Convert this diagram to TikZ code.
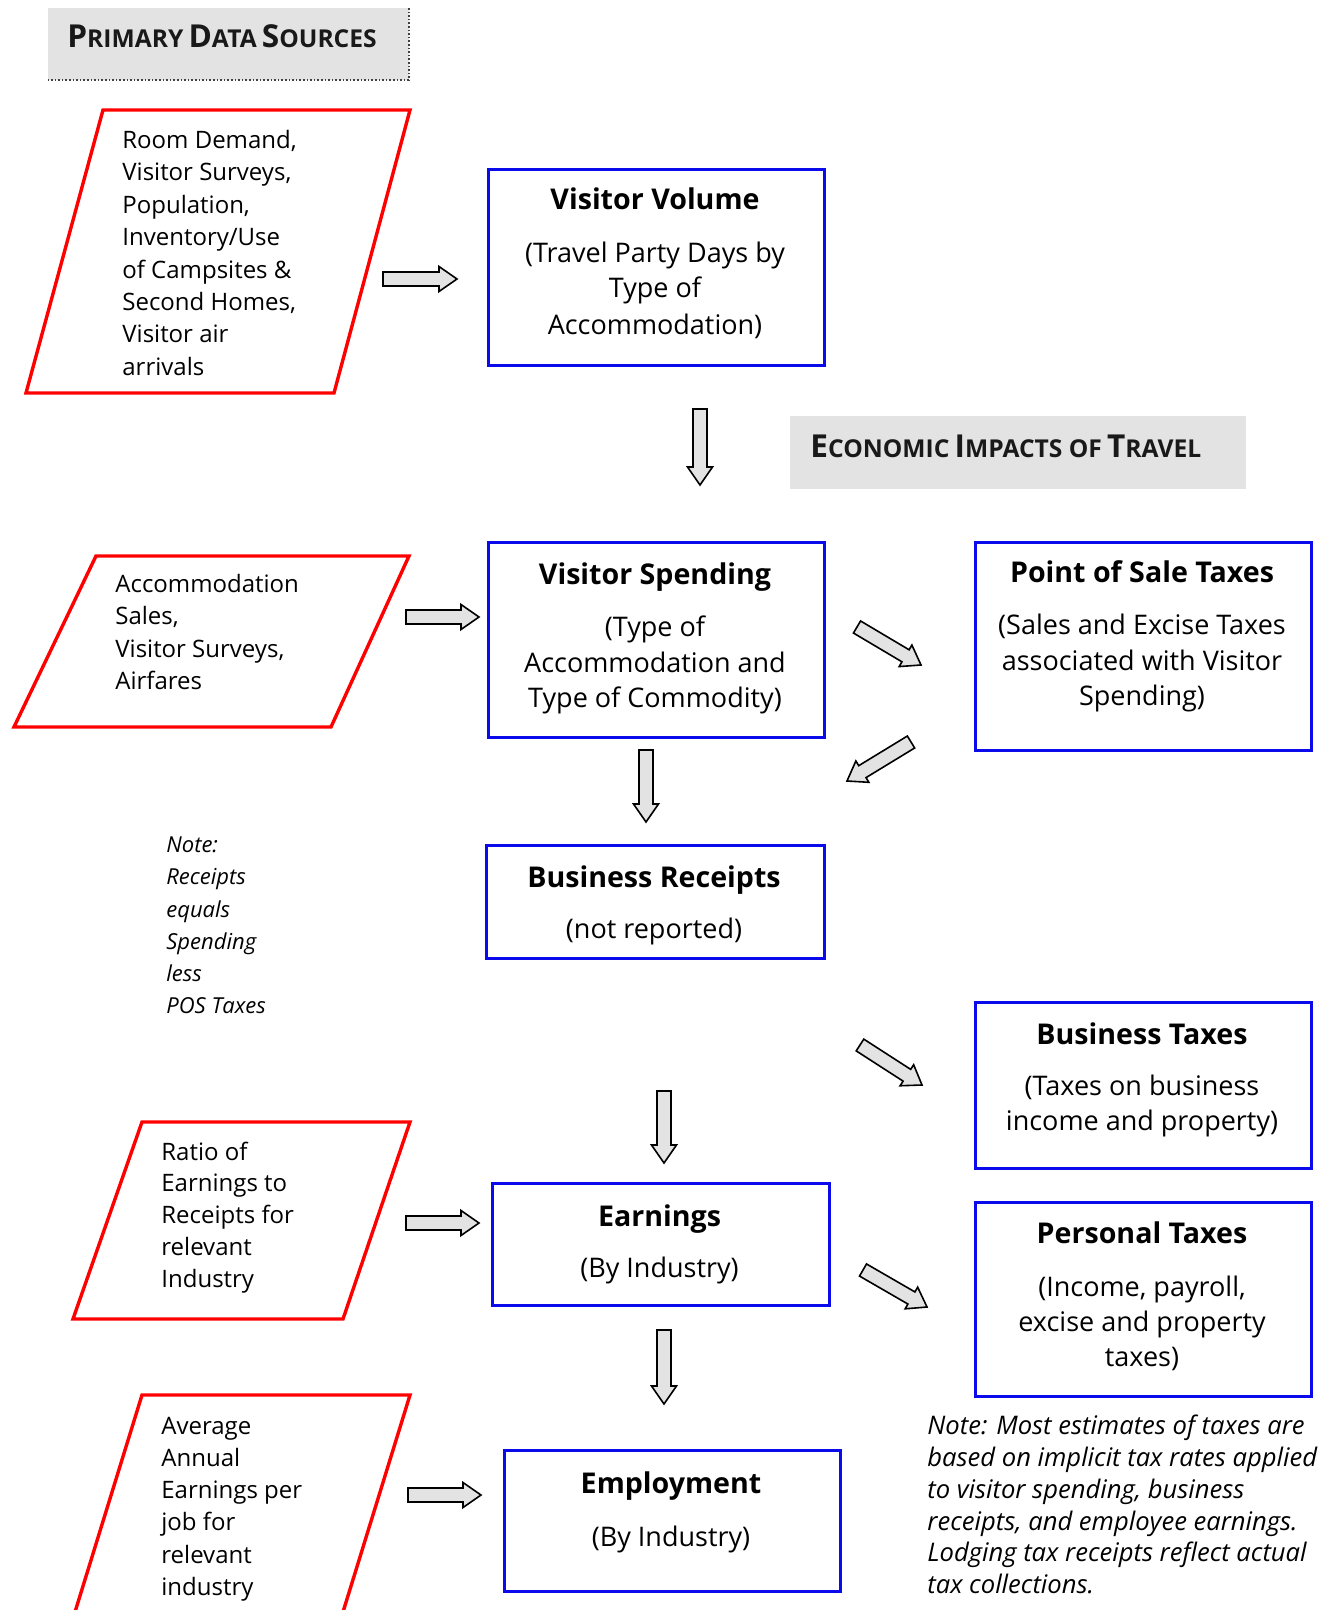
\documentclass[tikz,border=0pt]{standalone}
\usepackage{fontspec}
\setmainfont{Open Sans}
\usetikzlibrary{calc}
\definecolor{bblue}{RGB}{10,10,235}
\definecolor{rred}{RGB}{255,0,0}
\newcommand\myblockarrow[2]{%
  \path ($(#2)!9pt!(#1)$) coordinate (tmpB);
  \draw[barrow] ($(#1)!3.5pt!90:(#2)$) -- ($(tmpB)!3.5pt!90:(#2)$) -- ($(tmpB)!6.25pt!90:(#2)$) -- (#2)
    -- ($(tmpB)!6.25pt!-90:(#2)$) -- ($(tmpB)!3.5pt!-90:(#2)$) -- ($(#1)!3.5pt!-90:(#2)$) -- cycle;}
\newcommand\mybox[5]{\node[bluebox,anchor=north west,minimum width={(#4-#2)*0.5pt},minimum height={(#5-#3)*0.5pt}] (#1) at (#2,#3) {};}
\newcommand\mysc[2]{{\fontsize{15.8}{17}\selectfont #1}{\fontsize{12.3}{14}\selectfont #2}}
\begin{document}
\begin{tikzpicture}[x=0.5pt,y=-0.5pt,
  bluebox/.style={draw=bblue,line width=1.5pt,inner sep=0pt},
  redpar/.style={draw=rred,line width=1.7pt,line join=miter},
  barrow/.style={draw=black,fill=gray!22,line width=0.8pt,line join=miter},
  body/.style={font=\fontsize{12}{14}\selectfont,inner sep=0pt,anchor=mid west,yshift=-1.7pt},
  sub/.style={font=\fontsize{13.5}{15}\selectfont,inner sep=0pt,anchor=mid,yshift=-2pt},
  ttl/.style={font=\fontsize{14.3}{16}\selectfont\bfseries,inner sep=0pt,anchor=mid,yshift=-3pt},
  lnote/.style={font=\fontsize{11}{13}\selectfont\itshape,inner sep=0pt,anchor=mid west,yshift=-1.5pt},
  bnote/.style={font=\fontsize{12.8}{14}\selectfont\itshape,inner sep=0pt,anchor=mid west,yshift=-2pt},
  head/.style={font=\bfseries,inner sep=0pt,anchor=mid west,text=black!90,yshift=-2.5pt}]
\useasboundingbox (0,0) rectangle (1325,1610);

% headings
\fill[gray!22] (48,8) rectangle (409,80);
\draw[black!75,densely dotted,line width=0.8pt] (409,8) -- (409,80) -- (48,80);
\node[head] (h1) at (67,37) {\mysc{P}{RIMARY} \mysc{D}{ATA} \mysc{S}{OURCES}};
\fill[gray!22] (790,416) rectangle (1246,489);
\node[head] (h2) at (810,447) {\mysc{E}{CONOMIC} \mysc{I}{MPACTS OF} \mysc{T}{RAVEL}};

% parallelograms
\draw[redpar] (103,110) -- (410,110) -- (334,393) -- (26,393) -- cycle;
\draw[redpar] (96,556) -- (409,556) -- (331,727) -- (14,727) -- cycle;
\draw[redpar] (142,1122) -- (410,1122) -- (343,1319) -- (73,1319) -- cycle;
\draw[redpar] (75,1612) -- (142,1395) -- (410,1395) -- (343,1612);

\foreach \t [count=\i] in {{Room Demand,},{Visitor Surveys,},{Population,},{Inventory/Use},{of Campsites \&},{Second Homes,},{Visitor air},{arrivals}}
  \node[body] (pa\i) at (122,{139.7+32.4*(\i-1)}) {\t};
\foreach \t [count=\i] in {{Accommodation},{Sales,},{Visitor Surveys,},{Airfares}}
  \node[body] (pb\i) at (115,{583.4+32.5*(\i-1)}) {\t};
\foreach \t [count=\i] in {{Ratio of},{Earnings to},{Receipts for},{relevant},{Industry}}
  \node[body] (pc\i) at (161,{1151.4+31.8*(\i-1)}) {\t};
\foreach \t [count=\i] in {{Average},{Annual},{Earnings per},{job for},{relevant},{industry}}
  \node[body] (pd\i) at (161,{1425.6+32.2*(\i-1)}) {\t};

% boxes
\mybox{vv}{487}{168}{823}{364}
\node[ttl] (vvt) at (655,198) {Visitor Volume};
\node[sub] (vv1) at (655,252.7) {(Travel Party Days by};
\node[sub] (vv2) at (655,288.6) {Type of};
\node[sub] (vv3) at (655,325.6) {Accommodation)};

\mybox{vs}{487}{541}{823}{736}
\node[ttl] (vst) at (655,573) {Visitor Spending};
\node[sub] (vs1) at (655,627.6) {(Type of};
\node[sub] (vs2) at (655,663.5) {Accommodation and};
\node[sub] (vs3) at (655,698.4) {Type of Commodity)};

\mybox{pos}{974}{541}{1310}{749}
\node[ttl] (post) at (1142,571) {Point of Sale Taxes};
\node[sub] (pos1) at (1142,625.5) {(Sales and Excise Taxes};
\node[sub] (pos2) at (1142,661.4) {associated with Visitor};
\node[sub] (pos3) at (1142,696.4) {Spending)};

\mybox{br}{485}{844}{823}{957}
\node[ttl] (brt) at (654,876) {Business Receipts};
\node[sub] (br1) at (654,929.5) {(not reported)};

\mybox{bt}{974}{1001}{1310}{1167}
\node[ttl] (btt) at (1142,1033) {Business Taxes};
\node[sub] (bt1) at (1142,1085.7) {(Taxes on business};
\node[sub] (bt2) at (1142,1121.6) {income and property)};

\mybox{ea}{491}{1182}{828}{1304}
\node[ttl] (eat) at (659.5,1215) {Earnings};
\node[sub] (ea1) at (659.5,1268.5) {(By Industry)};

\mybox{pt}{974}{1201}{1310}{1395}
\node[ttl] (ptt) at (1142,1232.5) {Personal Taxes};
\node[sub] (pt1) at (1142,1287) {(Income, payroll,};
\node[sub] (pt2) at (1142,1322) {excise and property};
\node[sub] (pt3) at (1142,1356.8) {taxes)};

\mybox{em}{503}{1449}{839}{1590}
\node[ttl] (emt) at (671,1482) {Employment};
\node[sub] (em1) at (671,1537.6) {(By Industry)};

% notes
\foreach \t [count=\i] in {{Note:},{Receipts},{equals},{Spending},{less},{POS Taxes}}
  \node[lnote] (ln\i) at (166,{844.3+32.2*(\i-1)}) {\t};
\foreach \t [count=\i] in {{Note: Most estimates of taxes are},{based on implicit tax rates applied},{to visitor spending, business},{receipts, and employee earnings.},{Lodging tax receipts reflect actual},{tax collections.}}
  \node[bnote] (bn\i) at (927,{1425.6+31.7*(\i-1)}) {\t};

% block arrows
\coordinate (a1s) at (383,279);  \coordinate (a1e) at (457,279);
\coordinate (a2s) at (700,409);  \coordinate (a2e) at (700,485);
\coordinate (a3s) at (406,617);  \coordinate (a3e) at (479,617);
\coordinate (a4s) at (857,627);  \coordinate (a4e) at (921,665);
\coordinate (a5s) at (911,742);  \coordinate (a5e) at (847,781);
\coordinate (a6s) at (646,750);  \coordinate (a6e) at (646,822);
\coordinate (a7s) at (860,1045); \coordinate (a7e) at (922,1085);
\coordinate (a8s) at (664,1091); \coordinate (a8e) at (664,1163);
\coordinate (a9s) at (406,1223); \coordinate (a9e) at (479,1223);
\coordinate (a10s) at (863,1270); \coordinate (a10e) at (927,1307);
\coordinate (a11s) at (664,1330); \coordinate (a11e) at (664,1404);
\coordinate (a12s) at (408,1495); \coordinate (a12e) at (481,1495);
\foreach \k in {1,...,12} {\myblockarrow{a\k s}{a\k e}}
\end{tikzpicture}
\end{document}
